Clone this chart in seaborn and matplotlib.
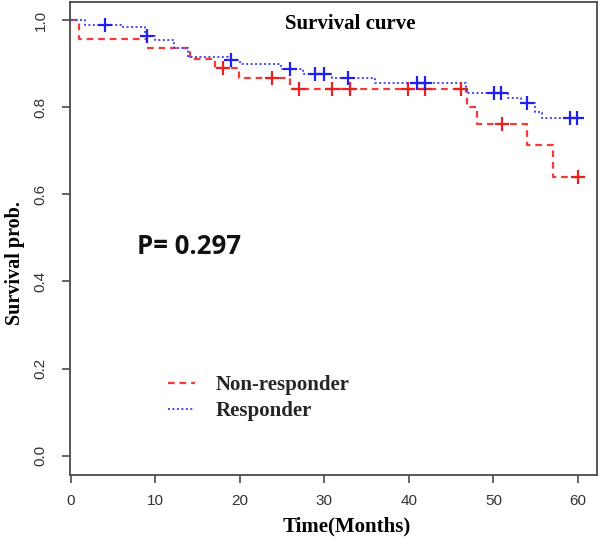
import numpy as np
import pandas as pd
import matplotlib
matplotlib.use("Agg")
import matplotlib.pyplot as plt
import seaborn as sns

# ---- data ----
times_nr = [0.0, 1.0, 9.0, 14.1, 17.1, 19.9, 25.9, 46.9, 48.0, 54.0, 57.0, 60.0]
surv_nr = [1.0, 0.956, 0.935, 0.911, 0.889, 0.868, 0.842, 0.801, 0.761, 0.713, 0.640, 0.640]
cens_nr_t = [18.0, 23.8, 27.0, 30.9, 33.0, 39.9, 41.9, 46.1, 51.0, 60.0]
cens_nr_s = [0.889, 0.868, 0.842, 0.842, 0.842, 0.842, 0.842, 0.842, 0.761, 0.640]

times_r = [0.0, 1.7, 5.9, 8.8, 10.0, 12.2, 13.9, 18.6, 20.0, 24.9, 27.5, 30.9, 36.0,
           46.7, 51.7, 53.2, 54.9, 55.8, 60.0]
surv_r = [1.0, 0.989, 0.983, 0.964, 0.954, 0.935, 0.916, 0.908, 0.899, 0.887, 0.876,
          0.868, 0.856, 0.832, 0.820, 0.809, 0.790, 0.774, 0.774]
cens_r_t = [4.0, 9.0, 19.0, 25.9, 28.9, 29.9, 32.8, 40.9, 41.9, 50.1, 50.9, 54.0, 59.0, 59.9]
cens_r_s = [0.989, 0.964, 0.908, 0.887, 0.876, 0.876, 0.868, 0.856, 0.856, 0.832, 0.832,
            0.809, 0.774, 0.774]

groups = ["Non-responder", "Responder"]
x_ticks = [0, 10, 20, 30, 40, 50, 60]
y_ticks = [0.0, 0.2, 0.4, 0.6, 0.8, 1.0]
y_tick_labels = ["0.0", "0.2", "0.4", "0.6", "0.8", "1.0"]
p_text = "P= 0.297"
title = "Survival curve"

RED = "#f53a3a"
BLUE = "#4545ff"
GRAY = "#4a4a4a"

sns.set_theme(style="white")
plt.rcParams["font.family"] = ["Liberation Sans", "DejaVu Sans"]

fig = plt.figure(figsize=(6.0, 5.47), dpi=100)
ax = fig.add_axes([0.1167, 0.1316, 0.8783, 0.8647])

df_nr = pd.DataFrame({"t": times_nr, "s": surv_nr})
df_r = pd.DataFrame({"t": times_r, "s": surv_r})

sns.lineplot(data=df_nr, x="t", y="s", ax=ax, color=RED, linewidth=1.6,
             estimator=None, sort=False, drawstyle="steps-post",
             linestyle=(0, (3, 2.2)), label=groups[0])
sns.lineplot(data=df_r, x="t", y="s", ax=ax, color=BLUE, linewidth=1.4,
             estimator=None, sort=False, drawstyle="steps-post",
             linestyle=(0, (1, 1.3)), label=groups[1])

sns.scatterplot(x=cens_nr_t, y=cens_nr_s, ax=ax, marker="+", s=100,
                color="#e82020", linewidth=1.6, legend=False, zorder=5)
sns.scatterplot(x=cens_r_t, y=cens_r_s, ax=ax, marker="+", s=100,
                color="#2020ee", linewidth=1.6, legend=False, zorder=5)

ax.set_xlim(-0.1, 62.25)
ax.set_ylim(-0.0443, 1.0413)
ax.set_xticks(x_ticks)
ax.set_xticklabels([str(v) for v in x_ticks])
ax.set_yticks(y_ticks)
ax.set_yticklabels(y_tick_labels, rotation=90, va="center")

for sp in ax.spines.values():
    sp.set_color(GRAY)
    sp.set_linewidth(1.3)

ax.tick_params(axis="both", which="major", direction="out", length=6,
               width=1.2, color=GRAY, labelsize=11, labelcolor="#333333",
               bottom=True, left=True)
ax.tick_params(axis="x", pad=8)
ax.tick_params(axis="y", pad=10)

serif_bold = dict(family=["Liberation Serif", "DejaVu Serif"], weight="bold")
ax.set_xlabel("Time(Months)", fontsize=15, color="black", **serif_bold)
ax.set_ylabel("Survival prob.", fontsize=14.5, color="black", **serif_bold)
ax.xaxis.set_label_coords(0.525, -0.087)
ax.yaxis.set_label_coords(-0.086, 0.448)

ax.text(33.0, 0.991, title, fontsize=15, ha="center", va="center",
        color="black", **serif_bold)
ax.text(7.83, 0.463, p_text, fontsize=18.5, ha="left", va="baseline",
        color="#111111", family=["Open Sans", "DejaVu Sans"], weight="bold")

leg = ax.legend(loc="upper left", bbox_to_anchor=(0.186, 0.211), frameon=False,
                borderpad=0, borderaxespad=0, handlelength=1.3,
                handletextpad=1.0, labelspacing=0.3,
                prop=dict(family="Liberation Serif", weight="bold", size=15))

fig.savefig("out.png", dpi=100)
